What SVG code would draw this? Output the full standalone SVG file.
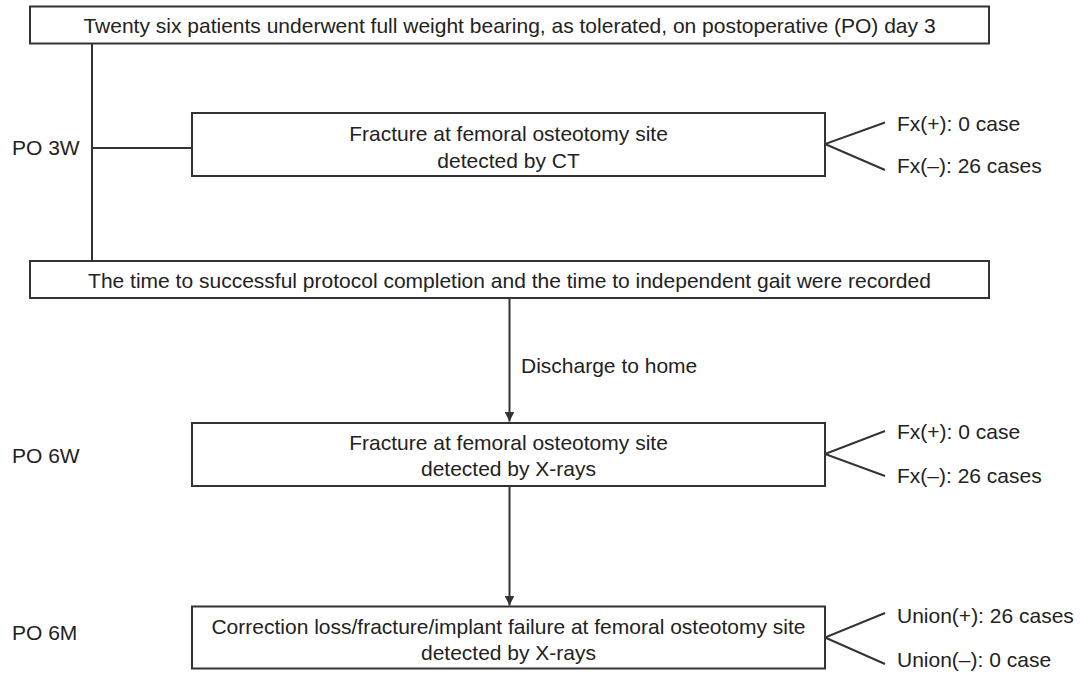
<svg xmlns="http://www.w3.org/2000/svg" width="1080" height="673" viewBox="0 0 1080 673">
<defs>
<style>
text{font-family:"Liberation Sans",Arial,sans-serif;font-size:21px;fill:#222}
.box{fill:#fff;stroke:#333;stroke-width:2}
.ln{fill:none;stroke:#333;stroke-width:2}
.c{text-anchor:middle}
</style>
<marker id="arr" viewBox="0 0 10 10" refX="10" refY="5" markerWidth="5" markerHeight="5" orient="auto" markerUnits="strokeWidth">
<path d="M0,0 L10,5 L0,10 z" fill="#333"/>
</marker>
</defs>
<rect width="1080" height="673" fill="#fff"/>
<g id="connectors">
<line class="ln" x1="92" y1="43" x2="92" y2="261"/>
<line class="ln" x1="92" y1="148" x2="192" y2="148"/>
<line class="ln" x1="509.5" y1="298" x2="509.5" y2="421.5" marker-end="url(#arr)"/>
<line class="ln" x1="509.5" y1="486" x2="509.5" y2="605.5" marker-end="url(#arr)"/>
<polyline class="ln" points="885,122.5 825,144 885,170"/>
<polyline class="ln" points="885,431 825,454 885,476"/>
<polyline class="ln" points="885,613 825,637.5 885,664"/>
</g>
<g id="n_top">
<rect class="box" x="30" y="6.5" width="959" height="37"/>
<text class="c" x="509.5" y="32.5">Twenty six patients underwent full weight bearing, as tolerated, on postoperative (PO) day 3</text>
</g>
<g id="n_po3w"><text x="12" y="155">PO 3W</text></g>
<g id="n_ct">
<rect class="box" x="192" y="113" width="633" height="63"/>
<text class="c" x="508.5" y="140.5">Fracture at femoral osteotomy site</text>
<text class="c" x="508.5" y="167.5">detected by CT</text>
</g>
<g id="n_ct_out">
<text x="897" y="131">Fx(+): 0 case</text>
<text x="897" y="173">Fx(–): 26 cases</text>
</g>
<g id="n_rec">
<rect class="box" x="30" y="261" width="959" height="37"/>
<text class="c" x="509.5" y="287.5">The time to successful protocol completion and the time to independent gait were recorded</text>
</g>
<g id="n_dis"><text x="521" y="372.5">Discharge to home</text></g>
<g id="n_po6w"><text x="12" y="463">PO 6W</text></g>
<g id="n_6w">
<rect class="box" x="192" y="423" width="633" height="63"/>
<text class="c" x="508.5" y="449.5">Fracture at femoral osteotomy site</text>
<text class="c" x="508.5" y="475.5">detected by X-rays</text>
</g>
<g id="n_6w_out">
<text x="897" y="439">Fx(+): 0 case</text>
<text x="897" y="483">Fx(–): 26 cases</text>
</g>
<g id="n_po6m"><text x="12" y="639.5">PO 6M</text></g>
<g id="n_6m">
<rect class="box" x="192" y="606.5" width="633" height="62"/>
<text class="c" x="508.5" y="633.5">Correction loss/fracture/implant failure at femoral osteotomy site</text>
<text class="c" x="508.5" y="660">detected by X-rays</text>
</g>
<g id="n_6m_out">
<text x="897" y="623">Union(+): 26 cases</text>
<text x="897" y="667">Union(–): 0 case</text>
</g>
</svg>
